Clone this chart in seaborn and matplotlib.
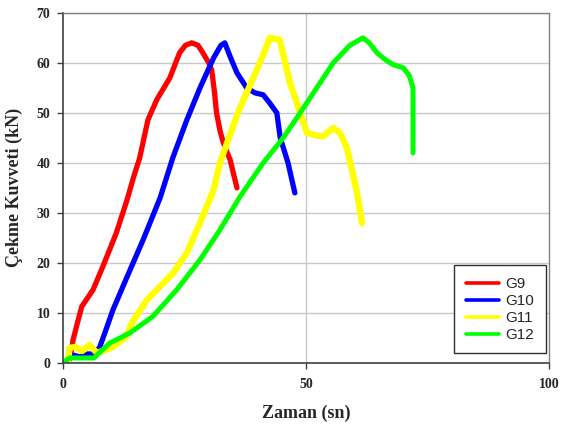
import pandas as pd
import seaborn as sns
import matplotlib.pyplot as plt

# 1. Data (time in s, force in kN)
g9_t = [1.0, 1.5, 1.9, 2.1, 3.0, 3.9, 6.2, 8.2, 11.0, 13.2, 14.5, 15.8, 17.5,
        19.3, 22.0, 24.0, 25.2, 26.5, 27.8, 28.8, 30.0, 30.6, 31.2, 31.6, 32.3,
        33.0, 34.4, 35.8]
g9_f = [0.0, 1.0, 3.2, 4.6, 8.0, 11.3, 14.6, 19.2, 26.0, 32.6, 37.0, 41.0, 48.6,
        52.6, 57.0, 62.0, 63.5, 64.0, 63.5, 62.0, 60.0, 58.6, 54.0, 50.0, 46.5,
        44.0, 40.6, 35.0]

g10_t = [1.0, 2.0, 3.5, 5.0, 6.4, 7.6, 9.0, 10.3, 13.2, 16.5, 20.0, 22.6, 25.5,
         28.2, 31.0, 32.5, 33.3, 34.5, 35.8, 37.8, 39.5, 41.2, 42.5, 44.0, 44.7,
         46.3, 47.7]
g10_f = [0.5, 1.6, 1.2, 1.8, 1.8, 3.2, 7.0, 10.6, 17.2, 24.6, 33.0, 41.0, 48.6,
         55.0, 61.0, 63.5, 64.0, 61.0, 58.0, 55.0, 54.0, 53.6, 52.0, 50.0, 45.0,
         40.0, 34.0]

g11_t = [1.0, 1.4, 2.5, 4.0, 5.5, 7.0, 8.5, 10.3, 13.1, 14.2, 17.3, 20.0, 22.7,
         25.5, 28.2, 31.0, 32.3, 36.0, 40.5, 42.6, 44.6, 46.7, 48.8, 50.2, 52.0,
         53.5, 55.6, 57.0, 58.4, 60.5, 61.5]
g11_f = [0.0, 3.0, 3.2, 2.4, 3.6, 2.0, 2.5, 3.2, 5.3, 8.0, 12.6, 15.3, 18.0,
         22.0, 28.0, 34.6, 40.0, 50.0, 60.0, 65.0, 64.6, 56.0, 50.0, 46.0, 45.5,
         45.3, 47.0, 46.0, 43.0, 34.0, 28.0]

g12_t = [0.0, 1.4, 4.0, 6.4, 8.0, 9.7, 13.8, 18.5, 23.4, 28.2, 32.3, 36.4, 41.2,
         45.3, 48.8, 55.6, 59.0, 61.7, 63.0, 64.6, 66.5, 68.0, 70.0, 71.2, 72.0,
         72.0]
g12_f = [0.0, 1.0, 1.0, 1.0, 2.5, 4.0, 6.0, 9.3, 14.6, 20.6, 26.6, 33.2, 40.0,
         45.0, 50.0, 60.0, 63.5, 65.0, 64.0, 62.0, 60.5, 59.6, 59.0, 57.5, 55.0,
         42.0]

series = ['G9', 'G10', 'G11', 'G12']
colors = ['#ff0000', '#0000ff', '#ffff00', '#00ff00']
widths = [3.8, 3.8, 4.6, 3.6]

frames = []
for name, t, f in zip(series, [g9_t, g10_t, g11_t, g12_t],
                      [g9_f, g10_f, g11_f, g12_f]):
    frames.append(pd.DataFrame({'Zaman': t, 'Kuvvet': f, 'Numune': name}))
data = pd.concat(frames, ignore_index=True)

# 2. Plot
sns.set_style('white')
fig = plt.figure(figsize=(5.61, 4.28), dpi=100)
ax = fig.add_axes([0.112, 0.152, 0.867, 0.818])

ax.set_yticks(range(0, 71, 10))
ax.grid(axis='y', color='#c8c8c8', linewidth=1.0)
ax.axvline(50, color='#c8c8c8', linewidth=1.0, zorder=0)

sns.lineplot(data=data, x='Zaman', y='Kuvvet', hue='Numune',
             palette=dict(zip(series, colors)), hue_order=series,
             sort=False, estimator=None, linewidth=3.8, ax=ax)
for line, w in zip(ax.get_lines()[1:], widths):
    line.set_linewidth(w)
    line.set_solid_joinstyle('round')
    line.set_solid_capstyle('round')

ax.set_xlim(0, 100)
ax.set_ylim(0, 70)
ax.set_xticks([0, 50, 100])

serif = {'family': 'Liberation Serif', 'weight': 'bold', 'size': 13}
ax.set_xlabel('Zaman (sn)', fontdict=serif, labelpad=10)
ax.set_ylabel('Çekme Kuvveti (kN)', fontdict=serif, labelpad=10)
for lab in ax.get_xticklabels() + ax.get_yticklabels():
    lab.set_fontfamily('Liberation Serif')
    lab.set_fontweight('bold')
    lab.set_fontsize(10)
ax.tick_params(axis='both', which='both', direction='out', length=4,
               width=1, color='#404040', left=True, bottom=True)
ax.tick_params(axis='x', pad=7)
ax.tick_params(axis='y', pad=5)

for side in ['left', 'bottom']:
    ax.spines[side].set_color('#404040')
    ax.spines[side].set_linewidth(1.2)
for side in ['top', 'right']:
    ax.spines[side].set_color('#808080')
    ax.spines[side].set_linewidth(1.0)

leg = ax.legend(loc='lower right', bbox_to_anchor=(0.993, 0.027),
                prop={'family': 'Liberation Sans', 'size': 11},
                fancybox=False, framealpha=1, edgecolor='#303030',
                handlelength=2.15, handletextpad=0.45, labelspacing=0.2,
                borderpad=0.75, borderaxespad=0)
leg.get_frame().set_linewidth(1.0)
for h in leg.get_lines():
    h.set_linewidth(2.6)

plt.savefig('out.png', dpi=100, facecolor='white')
